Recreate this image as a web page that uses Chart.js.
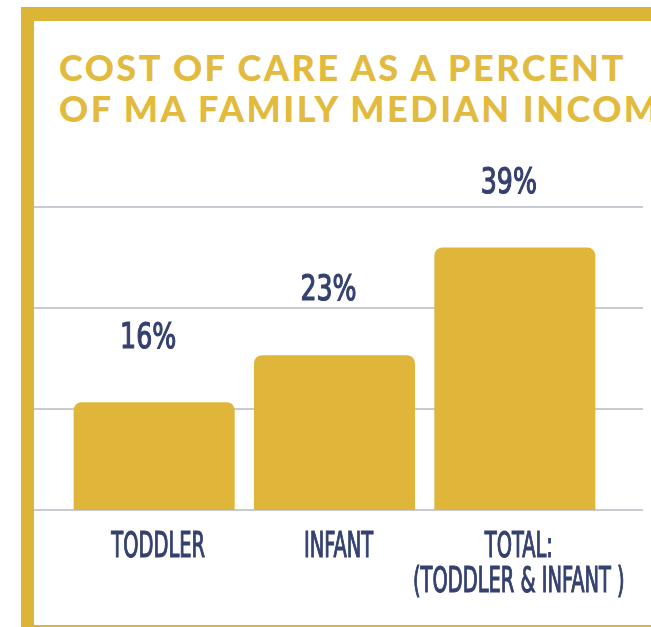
<!DOCTYPE html>
<html>
<head>
<meta charset="utf-8">
<script src="https://cdn.jsdelivr.net/npm/chart.js@4"></script>
<style>
    html, body { margin: 0; padding: 0; background: #fff; }
    body { width: 651px; height: 627px; position: relative; overflow: hidden; }
    #frame {
        position: absolute; left: 21px; top: 7px; width: 640px; height: 620px;
        box-sizing: border-box;
        border-left: 13px solid #DDB536; border-top: 14px solid #DDB536; border-bottom: 2px solid #DDB536;
    }
    #title {
        position: absolute; left: 59px; top: 47px; white-space: nowrap;
        font-family: Lato, "Open Sans", sans-serif; font-weight: 900; font-size: 36px;
        line-height: 41px; letter-spacing: 2.5px; color: #E1BA3E;
    }
    #wrap { position: absolute; left: 34px; top: 140px; width: 617px; height: 485px; }
</style>
</head>
<body>
<div id="frame"></div>
<div id="title">COST OF CARE AS A PERCENT<br>OF MA FAMILY MEDIAN INCOME</div>
<div id="wrap"><canvas id="careChart"></canvas></div>
<script>
// chart values
const categories = ['TODDLER', 'INFANT', 'TOTAL'];
const categoryLines = [['TODDLER'], ['INFANT'], ['TOTAL:', '(TODDLER & INFANT )']];
const percentOfIncome = [16, 23, 39];
const gridValues = [0, 15, 30, 45];

const gold = '#DFB53A';
const navy = '#34406E';
const labelFont = '36px "Liberation Sans Narrow", "DejaVu Sans Condensed", sans-serif';

// squeezed text, the print version uses a very narrow face
function narrowText(ctx, text, x, y, squeeze) {
    ctx.save();
    ctx.translate(x, y);
    ctx.scale(squeeze, 1);
    ctx.strokeText(text, 0, 0);
    ctx.fillText(text, 0, 0);
    ctx.restore();
}

// grid lines run past the plot area, like in the print version
const gridPlugin = {
    id: 'wideGrid',
    beforeDatasetsDraw(chart) {
        const ctx = chart.ctx;
        const y = chart.scales.y;
        ctx.save();
        ctx.strokeStyle = '#CACAD3';
        ctx.lineWidth = 2;
        gridValues.forEach(v => {
            const py = Math.round(y.getPixelForValue(v));
            ctx.beginPath();
            ctx.moveTo(0, py);
            ctx.lineTo(609, py);
            ctx.stroke();
        });
        ctx.restore();
    }
};

// percent labels above bars + category labels under the axis
const labelPlugin = {
    id: 'barLabels',
    afterDatasetsDraw(chart) {
        const ctx = chart.ctx;
        const bars = chart.getDatasetMeta(0).data;
        const area = chart.chartArea;
        ctx.save();
        ctx.fillStyle = navy;
        ctx.strokeStyle = navy;
        ctx.lineWidth = 1.2;
        ctx.font = labelFont;
        ctx.textAlign = 'center';
        ctx.textBaseline = 'middle';

        bars.forEach((bar, i) => {
            narrowText(ctx, percentOfIncome[i] + '%', bar.x - 6, bar.y - 64, 0.78);

            const cx = chart.scales.x.getPixelForValue(i) + 4;
            categoryLines[i].forEach((line, k) => {
                narrowText(ctx, line, cx, area.bottom + 38 + k * 35, 0.6);
            });
        });
        ctx.restore();
    }
};

const ctx = document.getElementById('careChart').getContext('2d');
new Chart(ctx, {
    type: 'bar',
    data: {
        labels: categories,
        datasets: [{
            label: 'Cost of care (% of median income)',
            data: percentOfIncome,
            backgroundColor: gold,
            borderRadius: 8,
            borderSkipped: 'start',
            categoryPercentage: 1,
            barPercentage: 0.893
        }]
    },
    options: {
        responsive: true,
        maintainAspectRatio: false,
        animation: false,
        layout: { padding: { left: 30, right: 46, top: 67, bottom: 115 } },
        plugins: {
            legend: { display: false },
            tooltip: { enabled: false }
        },
        scales: {
            x: { display: false },
            y: { display: false, min: 0, max: 45, ticks: { stepSize: 15 } }
        }
    },
    plugins: [gridPlugin, labelPlugin]
});
</script>
</body>
</html>
